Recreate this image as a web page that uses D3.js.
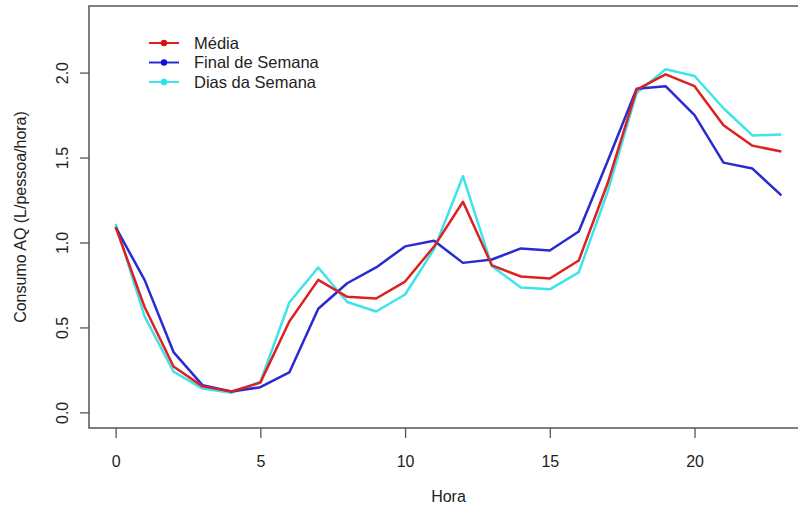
<!DOCTYPE html>
<html>
<head>
<meta charset="utf-8">
<script src="https://cdn.jsdelivr.net/npm/d3@7"></script>
<style>
  body { margin: 0; background: #fff; }
  text { font-family: "Liberation Sans", Arial, sans-serif; fill: #222; }
</style>
</head>
<body>
<div id="plotarea"></div>
<script>
// hours of the day
var horas = d3.range(0, 24);
// consumption per hour (L/pessoa/hora)
var media = [1.09, 0.62, 0.27, 0.153, 0.123, 0.175, 0.535, 0.78, 0.68, 0.67, 0.77, 0.976, 1.24, 0.865, 0.80, 0.788, 0.894, 1.35, 1.90, 1.99, 1.92, 1.69, 1.57, 1.535];
var finalSemana = [1.09, 0.78, 0.355, 0.16, 0.123, 0.148, 0.235, 0.61, 0.76, 0.853, 0.977, 1.01, 0.88, 0.90, 0.965, 0.953, 1.065, 1.48, 1.905, 1.92, 1.75, 1.47, 1.435, 1.277];
var diasSemana = [1.11, 0.565, 0.24, 0.14, 0.115, 0.18, 0.647, 0.853, 0.65, 0.594, 0.694, 0.96, 1.39, 0.86, 0.735, 0.724, 0.824, 1.30, 1.88, 2.02, 1.98, 1.79, 1.63, 1.635];
var seriesNames = ["Média", "Final de Semana", "Dias da Semana"];
var seriesColors = ["#dd2020", "#2a2ad2", "#3ee4ea"];
var xTicks = [0, 5, 10, 15, 20];
var yTicks = [0, 0.5, 1, 1.5, 2];

var W = 798, H = 508;
// plot box (name "top" clashes with window.top, so use mTop)
var mLeft = 89, mTop = 6, mRight = 808, mBottom = 428;
var fontSize = "16px";

var svg = d3.select("#plotarea").append("svg")
  .attr("width", W).attr("height", H);

// R style 4% extension of the ranges
var x = d3.scaleLinear().domain([-0.92, 23.92]).range([mLeft, mRight]);
var y = d3.scaleLinear().domain([-0.092, 2.392]).range([mBottom, mTop]);

var allSeries = [media, finalSemana, diasSemana];

var line = d3.line()
  .x(function(d, i) { return x(horas[i]); })
  .y(function(d) { return y(d); });

[2, 1, 0].forEach(function(k) {
  svg.append("path")
    .attr("d", line(allSeries[k]))
    .attr("fill", "none")
    .attr("stroke", seriesColors[k])
    .attr("stroke-width", 2.5)
    .attr("stroke-linejoin", "round");
});

// box
svg.append("rect")
  .attr("x", mLeft).attr("y", mTop)
  .attr("width", mRight - mLeft).attr("height", mBottom - mTop)
  .attr("fill", "none").attr("stroke", "#555").attr("stroke-width", 1.5);

// x axis
var xAxis = svg.append("g")
  .attr("transform", "translate(0," + mBottom + ")")
  .call(d3.axisBottom(x).tickValues(xTicks).tickSize(10).tickPadding(18).tickFormat(d3.format("d")));
xAxis.select(".domain").remove();
xAxis.selectAll("line").attr("stroke", "#555").attr("stroke-width", 1.3);
xAxis.selectAll("text").style("font-size", fontSize).attr("fill", "#222");

// y axis, labels rotated as in R
var yAxis = svg.append("g")
  .attr("transform", "translate(" + mLeft + ",0)")
  .call(d3.axisLeft(y).tickValues(yTicks).tickSize(9).tickFormat(d3.format(".1f")));
yAxis.select(".domain").remove();
yAxis.selectAll("line").attr("stroke", "#555").attr("stroke-width", 1.3);
yAxis.selectAll("text")
  .style("font-size", fontSize)
  .attr("x", 0).attr("y", 0)
  .attr("text-anchor", "middle")
  .attr("transform", "translate(-27,0) rotate(-90)")
  .attr("dy", "0.35em");

// axis titles
svg.append("text")
  .attr("x", (mLeft + mRight) / 2).attr("y", 502)
  .attr("text-anchor", "middle").style("font-size", fontSize)
  .text("Hora");

svg.append("text")
  .attr("transform", "translate(26," + ((mTop + mBottom) / 2) + ") rotate(-90)")
  .attr("text-anchor", "middle").style("font-size", fontSize)
  .text("Consumo AQ (L/pessoa/hora)");

// legend
var legend = svg.append("g").attr("transform", "translate(149,43)");
seriesNames.forEach(function(name, i) {
  var g = legend.append("g").attr("transform", "translate(0," + (i * 19.5) + ")");
  g.append("line").attr("x1", 0).attr("x2", 30).attr("y1", 0).attr("y2", 0)
    .attr("stroke", seriesColors[i]).attr("stroke-width", 2);
  g.append("circle").attr("cx", 15).attr("cy", 0).attr("r", 3.2)
    .attr("fill", i === 0 ? "#dd1010" : (i === 1 ? "#1010dd" : "#20e6ee"));
  g.append("text").attr("x", 45).attr("y", 0).attr("dy", "0.35em")
    .style("font-size", "16.5px").text(name);
});
</script>
</body>
</html>
